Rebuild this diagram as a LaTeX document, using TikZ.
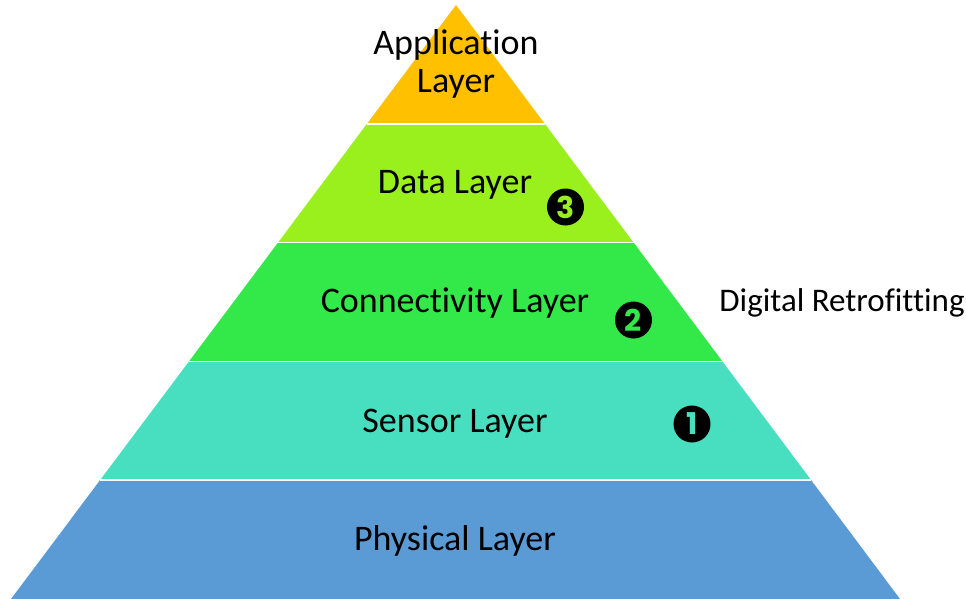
\documentclass[tikz,border=0pt]{standalone}
\usepackage{fontspec}
\setmainfont{Carlito}[Ligatures={NoCommon}]
\newfontfamily\digitfont{Poppins}
\usetikzlibrary{calc}
\definecolor{appc}{HTML}{FFC000}
\definecolor{datac}{HTML}{99F01C}
\definecolor{connc}{HTML}{33E849}
\definecolor{sensc}{HTML}{48DFC0}
\definecolor{physc}{HTML}{5B9BD5}
\tikzset{
  layertext/.style={anchor=base, inner sep=0pt, font=\fontsize{36}{38}\selectfont, text=black},
  sep/.style={draw=white, line width=1.5pt},
  badge/.style={circle, fill=black, minimum size=37pt, inner sep=0pt, font=\digitfont\bfseries\fontsize{30}{30}\selectfont}
}
\begin{document}
\begin{tikzpicture}[x=1pt,y=-1pt]
\useasboundingbox (0,0) rectangle (966,599);
\coordinate (apex) at (456,5);
\coordinate (bl) at (11,599);
\coordinate (br) at (900,599);
\foreach \i in {1,2,3,4} {
  \coordinate (l\i) at ($(apex)!\i/5!(bl)$);
  \coordinate (r\i) at ($(apex)!\i/5!(br)$);
}
\fill[appc] (apex) -- (l1) -- (r1) -- cycle;
\fill[datac] (l1) -- (l2) -- (r2) -- (r1) -- cycle;
\fill[connc] (l2) -- (l3) -- (r3) -- (r2) -- cycle;
\fill[sensc] (l3) -- (l4) -- (r4) -- (r3) -- cycle;
\fill[physc] (l4) -- (bl) -- (br) -- (r4) -- cycle;
\draw[sep] (l1) -- (r1);
\draw[sep] (l2) -- (r2);
\draw[sep] (l3) -- (r3);
\draw[sep] (l4) -- (r4);

\node[layertext] (app1) at (456,55) {Application};
\node[layertext] (app2) at (456,93) {Layer};
\node[layertext] (data) at (455,193) {Data Layer};
\node[layertext] (conn) at (455,312) {Connectivity Layer};
\node[layertext] (sens) at (455,432) {Sensor Layer};
\node[layertext] (phys) at (455,550) {Physical Layer};
\node[layertext, font=\fontsize{33}{36}\selectfont] (dr) at (842,311) {Digital Retrofitting};

\node[badge, text=datac] (b3) at (565.5,207) {3};
\node[badge, text=connc] (b2) at (633.5,320) {2};
\node[badge, text=sensc] (b1) at (692,424) {1};
\end{tikzpicture}
\end{document}
